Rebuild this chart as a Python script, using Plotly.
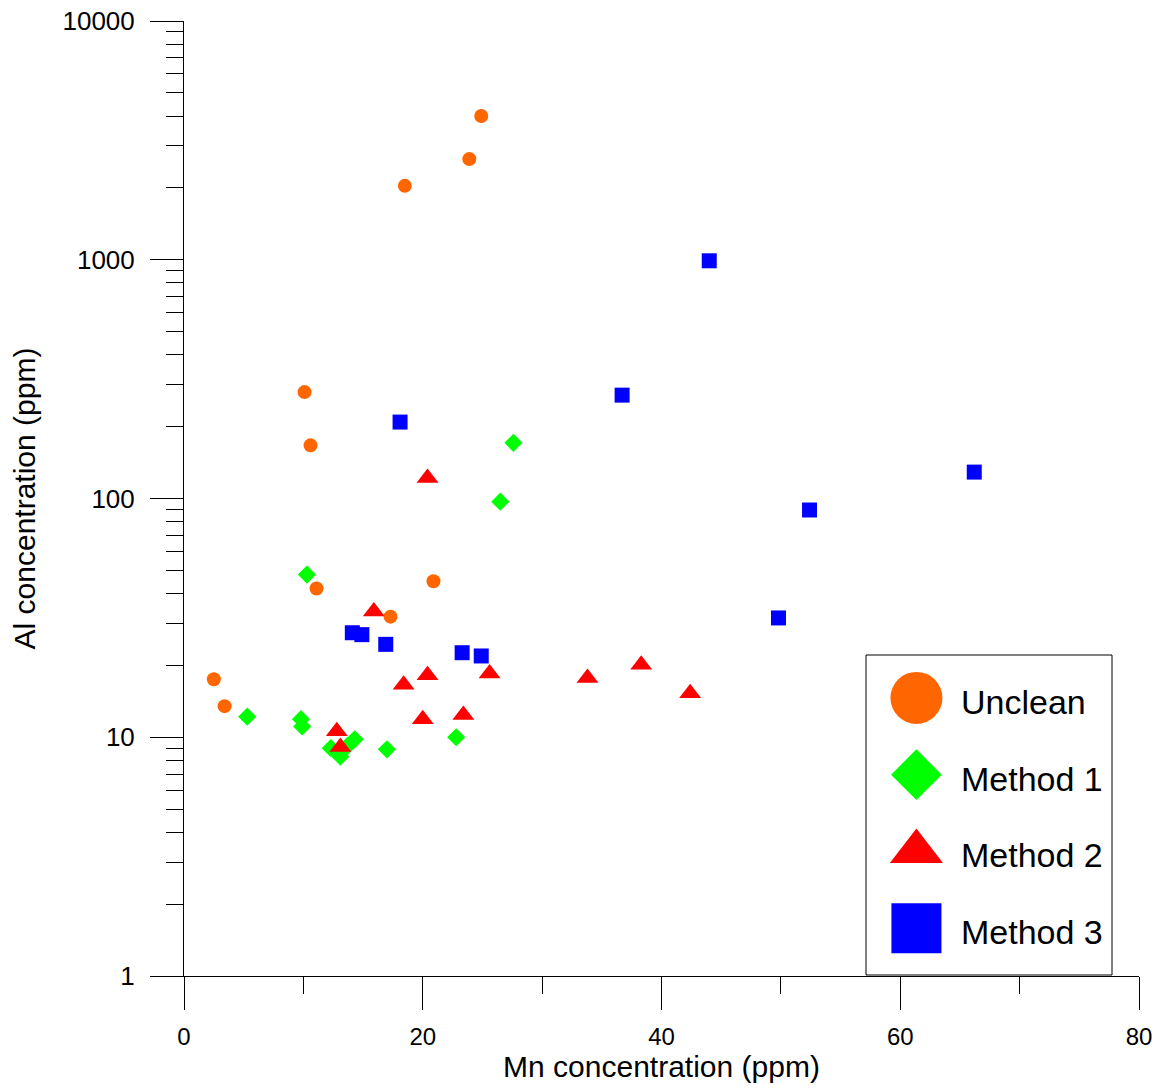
import plotly.graph_objects as go

# ---- data ----
unclean_x = [24.9, 23.9, 18.5, 10.1, 10.6, 11.1, 20.9, 17.3, 2.5, 3.4]
unclean_y = [4000, 2640, 2040, 279, 167, 42, 45, 32, 17.5, 13.5]

method1_x = [27.6, 26.5, 10.3, 5.3, 9.8, 9.9, 14.3, 12.3, 13.1, 13.7, 17.0, 22.8]
method1_y = [171, 97, 48, 12.2, 11.9, 11.1, 9.8, 9.0, 8.3, 9.2, 8.9, 10.0]

method2_x = [20.4, 15.9, 18.4, 20.4, 25.6, 20.0, 23.4, 12.8, 13.1, 33.8, 38.3, 42.4]
method2_y = [122, 33.6, 16.6, 18.2, 18.5, 11.9, 12.4, 10.6, 9.1, 17.7, 20.1, 15.3]

method3_x = [44.0, 36.7, 18.1, 66.2, 52.4, 49.8, 14.1, 14.9, 16.9, 23.3, 24.9]
method3_y = [990, 271, 209, 129, 89.5, 31.6, 27.4, 26.9, 24.5, 22.6, 21.9]

series_names = ["Unclean", "Method 1", "Method 2", "Method 3"]
x_ticks = [0, 20, 40, 60, 80]
y_ticks = [1, 10, 100, 1000, 10000]

FONT = "Arial, Liberation Sans, sans-serif"

styles = {
    "Unclean": dict(symbol="circle", color="#FF6600", size=14, lsize=52),
    "Method 1": dict(symbol="diamond", color="#00FF00", size=14, lsize=39),
    "Method 2": dict(symbol="triangle-up", color="#FF0000", size=19, lsize=46),
    "Method 3": dict(symbol="square", color="#0000FF", size=15, lsize=50),
}
data = {
    "Unclean": (unclean_x, unclean_y),
    "Method 1": (method1_x, method1_y),
    "Method 2": (method2_x, method2_y),
    "Method 3": (method3_x, method3_y),
}

fig = go.Figure()
# drawing order: circles on top
for name in ["Method 1", "Method 2", "Method 3", "Unclean"]:
    st = styles[name]
    xs, ys = data[name]
    fig.add_trace(go.Scatter(
        x=xs, y=ys, mode="markers", name=name, showlegend=False,
        marker=dict(symbol=st["symbol"], color=st["color"], size=st["size"], line=dict(width=0)),
    ))

# custom legend (large symbols) on hidden axes inside the legend box
lx0, lx1 = (866 - 184) / 955, (1112 - 184) / 955
ly0, ly1 = (976 - 975) / 955, (976 - 655) / 955
for i, name in enumerate(series_names):
    st = styles[name]
    yy = 0.866 - i * 0.24
    fig.add_trace(go.Scatter(
        x=[0.205], y=[yy], mode="markers", showlegend=False, xaxis="x2", yaxis="y2",
        marker=dict(symbol=st["symbol"], color=st["color"], size=st["lsize"], line=dict(width=0)),
        hoverinfo="skip",
    ))
    fig.add_annotation(x=0.38, y=yy - 0.012, xref="x2", yref="y2", text=name, showarrow=False,
                       xanchor="left", yanchor="middle", font=dict(family=FONT, size=34, color="black"))

fig.add_shape(type="rect", xref="paper", yref="paper", x0=lx0, x1=lx1, y0=ly0, y1=ly1,
              line=dict(color="black", width=1), fillcolor="white", layer="below")

fig.update_layout(
    width=1157, height=1088,
    margin=dict(l=184, r=18, t=21, b=112),
    paper_bgcolor="white", plot_bgcolor="rgba(0,0,0,0)",
    font=dict(family=FONT, color="black"),
    xaxis=dict(
        range=[0, 80], tickvals=x_ticks, ticktext=[str(v) for v in x_ticks],
        showline=True, linecolor="black", linewidth=1, mirror=False,
        ticks="outside", ticklen=33, tickcolor="black", tickwidth=1,
        minor=dict(ticks="outside", ticklen=17, tickcolor="black", dtick=10, showgrid=False),
        showgrid=False, zeroline=False, automargin=False, ticklabeloverflow="allow",
        tickfont=dict(family=FONT, size=24), ticklabelstandoff=6,
        title=dict(text="Mn concentration (ppm)", font=dict(family=FONT, size=30), standoff=0),
    ),
    yaxis=dict(
        type="log", range=[0, 4], tickvals=y_ticks, ticktext=[str(v) for v in y_ticks],
        showline=True, linecolor="black", linewidth=1, mirror=False,
        ticks="outside", ticklen=33, tickcolor="black", tickwidth=1,
        minor=dict(ticks="outside", ticklen=17, tickcolor="black", dtick="D1", showgrid=False),
        showgrid=False, zeroline=False, automargin=False, ticklabeloverflow="allow",
        tickfont=dict(family=FONT, size=26), ticklabelstandoff=10,
        title=dict(text="Al concentration (ppm)", font=dict(family=FONT, size=30), standoff=17),
    ),
    xaxis2=dict(domain=[lx0, lx1], range=[0, 1], visible=False, anchor="y2", fixedrange=True),
    yaxis2=dict(domain=[ly0, ly1], range=[0, 1], visible=False, anchor="x2", fixedrange=True),
)

# remove the page's default 8px body margin so the figure sits at the window origin
fig.write_html(
    "out.html",
    config={"displayModeBar": False},
    post_script="document.body.style.margin='0';document.body.style.overflow='hidden';",
)
